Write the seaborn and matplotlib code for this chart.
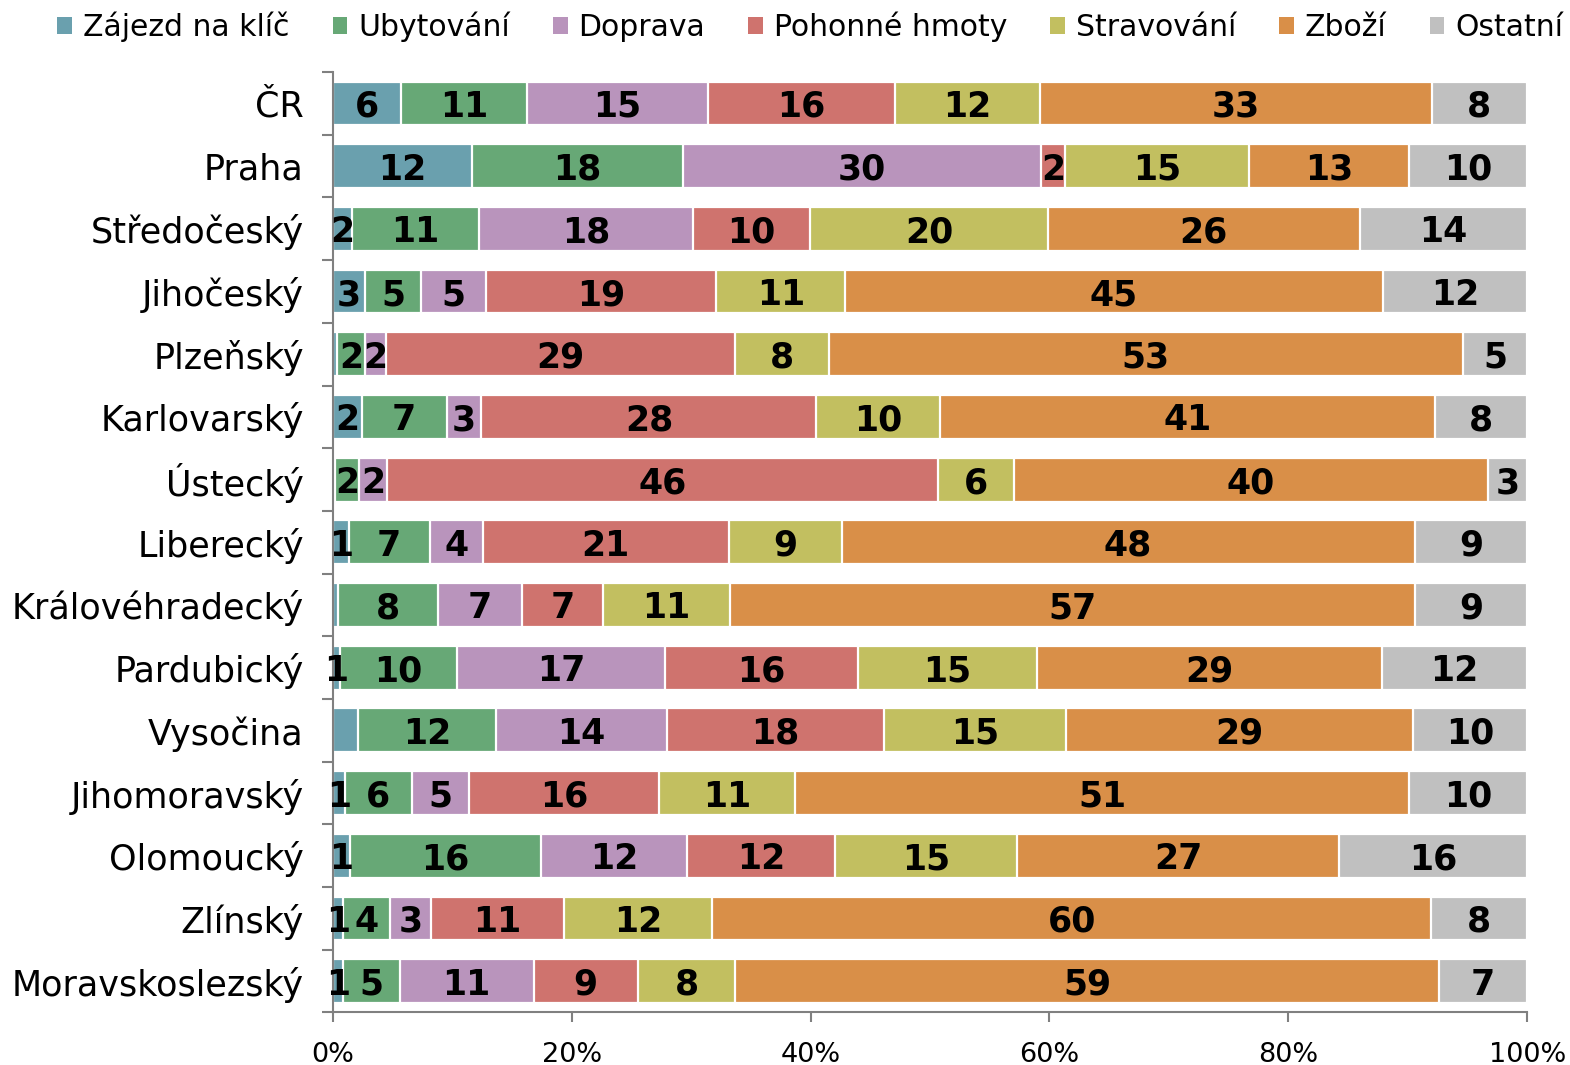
import numpy as np
import pandas as pd
import seaborn as sns
import matplotlib.pyplot as plt
from matplotlib.patches import Patch

# Data (shares in %)
regions = ['ČR', 'Praha', 'Středočeský', 'Jihočeský', 'Plzeňský', 'Karlovarský',
           'Ústecký', 'Liberecký', 'Královéhradecký', 'Pardubický', 'Vysočina',
           'Jihomoravský', 'Olomoucký', 'Zlínský', 'Moravskoslezský']
zajezd = [5.7, 11.6, 1.6, 2.7, 0.3, 2.4, 0.2, 1.3, 0.4, 0.6, 2.1, 1.0, 1.4, 0.8, 0.8]
ubytovani = [10.6, 17.7, 10.6, 4.7, 2.4, 7.1, 2.0, 6.8, 8.4, 9.8, 11.6, 5.6, 16.0, 4.0, 4.8]
doprava = [15.1, 30.0, 18.0, 5.4, 1.7, 2.9, 2.3, 4.4, 7.0, 17.4, 14.3, 4.8, 12.2, 3.4, 11.2]
pohonne = [15.7, 2.0, 9.8, 19.3, 29.3, 28.0, 46.1, 20.6, 6.8, 16.2, 18.2, 15.9, 12.4, 11.1, 8.7]
stravovani = [12.2, 15.4, 19.9, 10.8, 7.8, 10.3, 6.4, 9.4, 10.6, 15.0, 15.3, 11.4, 15.2, 12.4, 8.2]
zbozi = [32.8, 13.4, 26.2, 45.0, 53.1, 41.4, 39.6, 47.9, 57.3, 28.9, 29.1, 51.4, 27.0, 60.1, 58.9]
ostatni = [8.0, 9.9, 14.0, 12.1, 5.4, 7.7, 3.3, 9.4, 9.4, 12.2, 9.6, 9.9, 15.7, 8.0, 7.4]

series = ['Zájezd na klíč', 'Ubytování', 'Doprava', 'Pohonné hmoty',
          'Stravování', 'Zboží', 'Ostatní']
colors = ['#6aa0ae', '#67a876', '#b994bc', '#cf736e', '#c2bf60', '#d98f48', '#c0c0c0']
hidden_labels = [('Vysočina', 'Zájezd na klíč')]

df = pd.DataFrame(dict(zip(series, [zajezd, ubytovani, doprava, pohonne,
                                    stravovani, zbozi, ostatni])), index=regions)
share = df.div(df.sum(axis=1), axis=0) * 100
cum = share.cumsum(axis=1)

sns.set_style('white')
plt.rcParams['font.family'] = ['DejaVu Sans']
plt.rcParams['text.color'] = 'black'
plt.rcParams['xtick.labelcolor'] = 'black'
plt.rcParams['ytick.labelcolor'] = 'black'

fig = plt.figure(figsize=(15.7, 10.65), dpi=100)
ax = fig.add_axes([0.2121, 0.0493, 0.7606, 0.8830])

# stacked bars: draw cumulative totals from the longest down
for i in range(len(series) - 1, -1, -1):
    sns.barplot(x=cum[series[i]].values, y=regions, color=colors[i], orient='h',
                width=0.7, edgecolor='white', linewidth=1.6, saturation=1, ax=ax)

# value labels
for r_i, region in enumerate(regions):
    for s in series:
        val = int(round(df.loc[region, s]))
        if val < 1 or (region, s) in hidden_labels:
            continue
        x = cum.loc[region, s] - share.loc[region, s] / 2
        ax.text(x, r_i, str(val), ha='center', va='center_baseline', fontsize=25,
                fontweight='bold', color='black')

ax.set_xlim(0, 100)
ax.set_ylim(len(regions) - 0.5, -0.5)
ax.set_xlabel('')
ax.set_ylabel('')
ax.set_xticks(range(0, 101, 20))
ax.set_xticklabels([f'{t}%' for t in range(0, 101, 20)], fontsize=19.5)
ax.set_yticks(np.arange(-0.5, len(regions), 1), minor=True)
ax.tick_params(axis='y', which='major', length=0, pad=21, labelsize=25.2)
ax.tick_params(axis='y', which='minor', length=8, width=1.5, color='#808080',
               direction='out', left=True)
ax.tick_params(axis='x', which='major', length=7, width=1.5, color='#808080',
               direction='out', bottom=True, pad=14)
for side in ['top', 'right']:
    ax.spines[side].set_visible(False)
for side in ['left', 'bottom']:
    ax.spines[side].set_color('#808080')
    ax.spines[side].set_linewidth(1.5)

handles = [Patch(facecolor=c, edgecolor='none') for c in colors]
fig.legend(handles, series, loc='upper center', bbox_to_anchor=(0.516, 1.014),
           ncol=7, frameon=False, fontsize=21.5, handlelength=0.5,
           handleheight=0.5, handletextpad=0.35, columnspacing=1.45)

fig.savefig('out.png', dpi=100)
